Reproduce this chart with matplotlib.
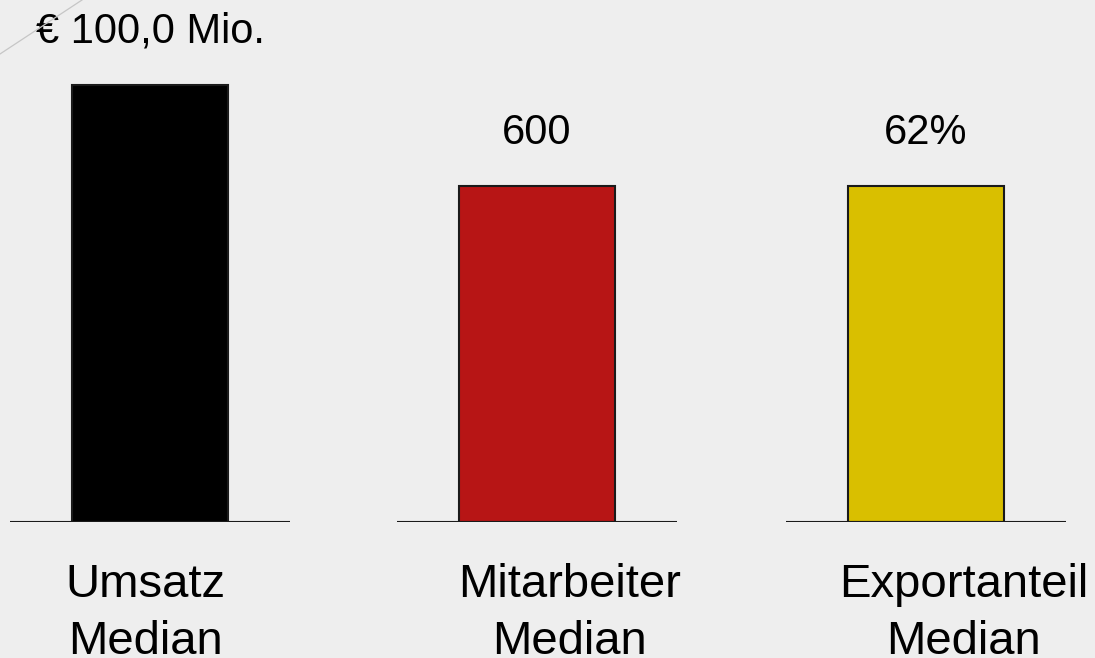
import matplotlib
matplotlib.use("Agg")
import matplotlib.pyplot as plt
from matplotlib.lines import Line2D

plt.rcParams['font.family'] = ['Liberation Sans', 'DejaVu Sans']

# data
categories = ["Umsatz", "Mitarbeiter", "Exportanteil"]
sublabels = ["Median", "Median", "Median"]
value_labels = ["€ 100,0 Mio.", "600", "62%"]
bar_heights = [1.3, 1.0, 1.0]          # relative display heights
bar_colors = ["#000000", "#b71515", "#d9bf00"]

# layout (pixels of a 1095x658 canvas)
W, H = 1095, 658
panel_left = [10, 397, 786]
panel_width = 280
base_y = 522
label_dx = [-0.03, 0.21, 0.24]         # label shift from bar centre, data units

fig = plt.figure(figsize=(W / 100, H / 100), dpi=100)
fig.patch.set_facecolor("#eeeeee")

# faint decorative stroke in the top-left corner
fig.add_artist(Line2D([0, 82 / W], [1 - 54 / H, 1], color="#c6c6c6", lw=0.9))

for i, cat in enumerate(categories):
    ax = fig.add_axes([panel_left[i] / W, 1 - base_y / H, panel_width / W, base_y / H])
    ax.set_facecolor("none")
    ax.set_xlim(-0.9, 0.9)
    ax.set_ylim(0, base_y / 336)
    ax.axis("off")

    ax.bar(0, bar_heights[i], width=1.0, color=bar_colors[i],
           edgecolor="#1a1a1a", linewidth=1.5, zorder=2)
    ax.axhline(0, color="#1a1a1a", lw=1.5, zorder=3)

    ax.annotate(value_labels[i], xy=(0, bar_heights[i]), xytext=(0, 30.5),
                textcoords="offset points", ha="center", va="baseline",
                fontsize=30, color="#000000", annotation_clip=False)

    ax.annotate(cat, xy=(label_dx[i], 0), xytext=(0, -54),
                textcoords="offset points", ha="center", va="baseline",
                fontsize=34, color="#000000", annotation_clip=False)
    ax.annotate(sublabels[i], xy=(label_dx[i], 0), xytext=(0, -95),
                textcoords="offset points", ha="center", va="baseline",
                fontsize=34, color="#000000", annotation_clip=False)

fig.savefig("out.png", dpi=100, facecolor=fig.get_facecolor())
